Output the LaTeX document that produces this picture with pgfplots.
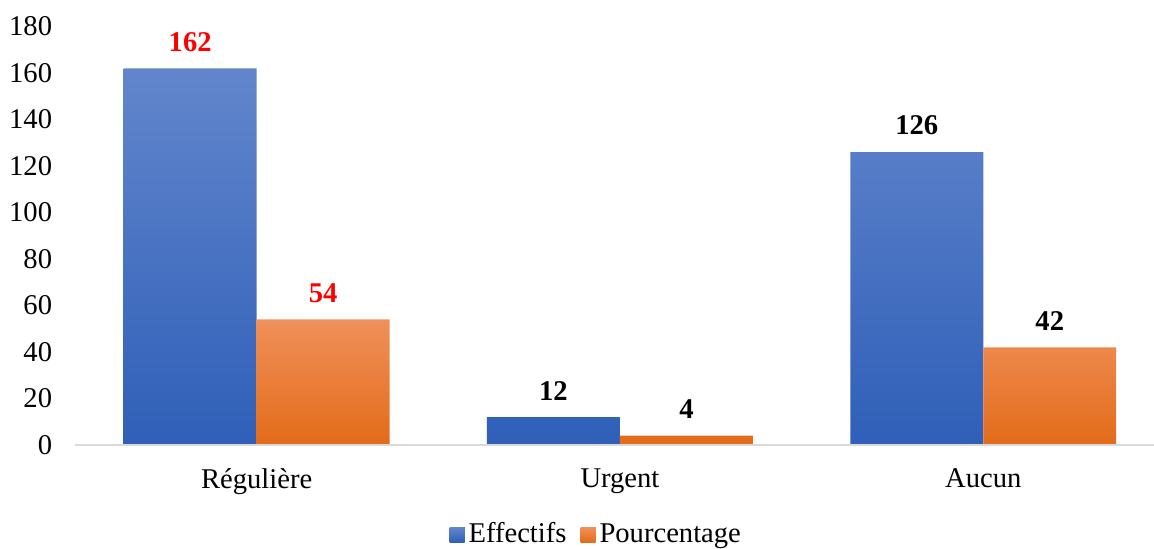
\documentclass[border=0pt]{standalone}
\usepackage{fontspec}
\setmainfont{Liberation Serif}
\usepackage{pgfplots}
\pgfplotsset{compat=1.18}

\definecolor{blueTop}{HTML}{6286CC}
\definecolor{blueMid}{HTML}{4674C8}
\definecolor{blueBot}{HTML}{2F5FB8}
\definecolor{orangeTop}{HTML}{F0905A}
\definecolor{orangeMid}{HTML}{F47E2E}
\definecolor{orangeBot}{HTML}{E36B19}
\definecolor{legBlue}{HTML}{4472C4}
\definecolor{legOrange}{HTML}{ED7D31}
\definecolor{baseGray}{HTML}{D9D9D9}

\begin{document}
\fontsize{14.3}{17}\selectfont
\begin{tikzpicture}
\begin{axis}[
  at={(0,0)}, anchor=south west,
  scale only axis,
  width=539.5pt, height=209.25pt,
  xmin=-0.5, xmax=2.47,
  ymin=0, ymax=180,
  ytick={0,20,...,180},
  xtick={0,1,2},
  xticklabels={Régulière,Urgent,Aucun},
  axis line style={draw=none},
  major tick length=0pt,
  /pgf/number format/assume math mode=true,
  yticklabel style={xshift=-6.5pt, font=\fontsize{14.3}{17}\selectfont},
  xticklabel style={yshift=-7pt, font=\fontsize{14.3}{17}\selectfont},
  ybar, bar width=0.366,
  visualization depends on={x \as \xv},
  nodes near coords={\ifdim\xv pt<0.5pt\color{red}\fi\pgfmathprintnumber{\pgfplotspointmeta}},
  every node near coord/.append style={font=\fontsize{14.3}{17}\selectfont\bfseries, yshift=3.5pt, /pgf/number format/assume math mode=true},
  legend style={draw=none, at={(0.484,-0.215)}, anchor=center,
    legend columns=2, font=\fontsize{14.3}{17}\selectfont,
    /tikz/every even column/.append style={column sep=5pt}},
  clip=false,
]
\addplot[draw=none, bar shift=-0.183, top color=blueTop, middle color=blueMid, bottom color=blueBot,
  legend image code/.code={\fill[legBlue] (0pt,-3.75pt) rectangle (7.5pt,3.75pt);}]
  coordinates {(0,162) (1,12) (2,126)};
\addplot[draw=none, bar shift=0.183, top color=orangeTop, middle color=orangeMid, bottom color=orangeBot,
  legend image code/.code={\fill[legOrange] (0pt,-3.75pt) rectangle (7.5pt,3.75pt);}]
  coordinates {(0,54) (1,4) (2,42)};
\legend{Effectifs,Pourcentage}
\draw[baseGray, line width=1pt] (axis cs:-0.5,0) -- (axis cs:2.47,0);
\end{axis}
\pgfresetboundingbox
\path[use as bounding box] (-37.5pt,-51.5pt) rectangle (539.5pt,222.5pt);
\end{tikzpicture}
\end{document}
